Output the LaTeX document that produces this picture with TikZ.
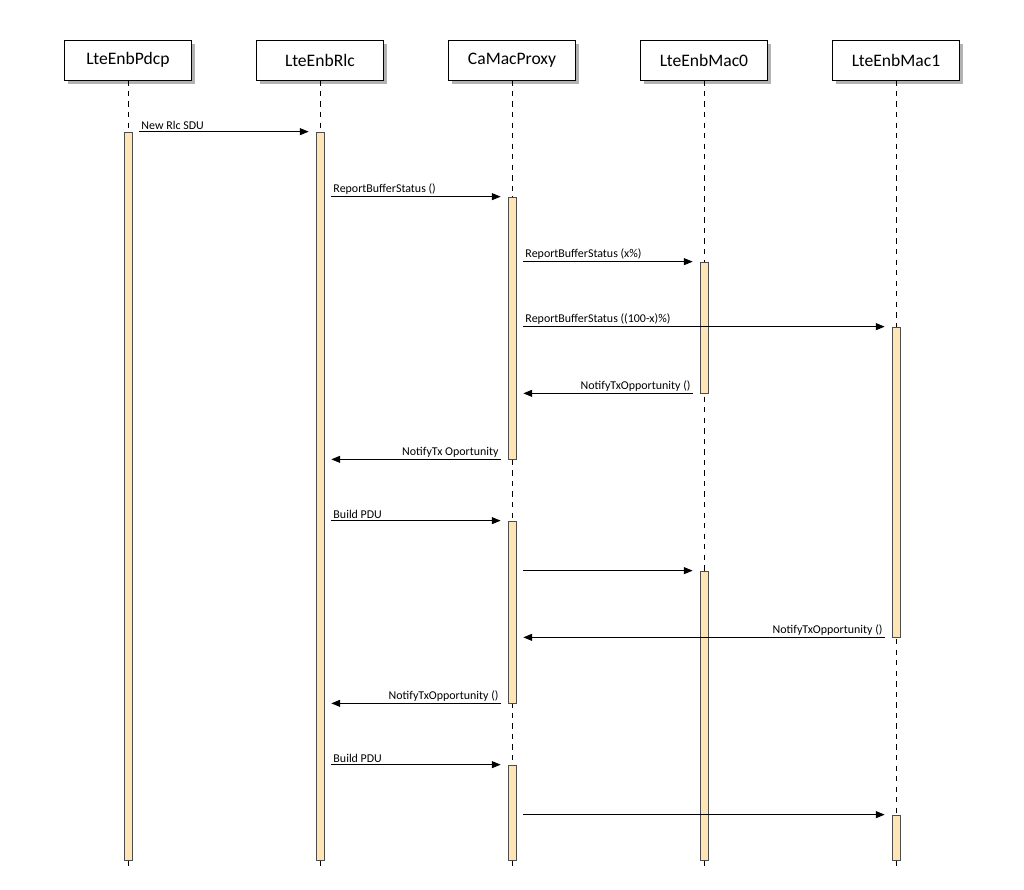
\documentclass[tikz,border=0pt]{standalone}
\usepackage{fontspec}
\setmainfont{Carlito}
\usetikzlibrary{arrows.meta,shadows}

\definecolor{barfill}{HTML}{FFE4B5}

\tikzset{
    actor/.style = {draw = black, fill = white, minimum width = 127*0.02cm,
                    minimum height = 40*0.02cm, inner sep = 0pt,
                    drop shadow = {shadow xshift = 2pt, shadow yshift = -2pt, fill = black!60}},
    bar/.style = {draw = black!70, fill = barfill, minimum width = 8*0.02cm, inner sep = 0pt},
    life/.style = {dashed, black},
    msg/.style = {-{Triangle[length=5pt,width=4pt]}, black},
    lbl/.style = {font = \fontsize{6.8}{8}\selectfont, inner sep = 1pt, above}
}

\begin{document}
\begin{tikzpicture}[x=0.02cm, y=-0.02cm]

    \useasboundingbox (0,0) rectangle (1024,889);

    % actors
    \node[actor] (pdcp) at (128,60) {LteEnbPdcp};
    \node[actor] (rlc)  at (320,60) {LteEnbRlc};
    \node[actor] (prox) at (512,60) {CaMacProxy};
    \node[actor] (mac0) at (704,60) {LteEnbMac0};
    \node[actor] (mac1) at (896,60) {LteEnbMac1};

    % lifelines
    \foreach \a in {pdcp, rlc, prox, mac0, mac1}
        \draw[life] (\a.south) -- ++(0,788);

    % activation bars
    \node[bar, minimum height = 728*0.02cm] (bp)  at (128,496) {};
    \node[bar, minimum height = 728*0.02cm] (br)  at (320,496) {};
    \node[bar, minimum height = 262*0.02cm] (bx1) at (512,328) {};
    \node[bar, minimum height = 182*0.02cm] (bx2) at (512,612) {};
    \node[bar, minimum height = 95*0.02cm]  (bx3) at (512,812.5) {};
    \node[bar, minimum height = 131*0.02cm] (bm1) at (704,327.5) {};
    \node[bar, minimum height = 289*0.02cm] (bm2) at (704,715.5) {};
    \node[bar, minimum height = 310*0.02cm] (bn1) at (896,482) {};
    \node[bar, minimum height = 45*0.02cm]  (bn2) at (896,837.5) {};

    % messages
    \draw[msg] ([xshift=4pt]bp.north east) -- ([xshift=-4pt]br.north west)
        node[lbl, pos=0, anchor=south west] {New Rlc SDU};
    \draw[msg] ([xshift=4pt]br.east |- bx1.north) -- ([xshift=-4pt]bx1.north west)
        node[lbl, pos=0, anchor=south west] {ReportBufferStatus ()};
    \draw[msg] ([xshift=4pt]bx1.east |- bm1.north) -- ([xshift=-4pt]bm1.north west)
        node[lbl, pos=0, anchor=south west] {ReportBufferStatus (x\%)};
    \draw[msg] ([xshift=4pt]bx1.east |- bn1.north) -- ([xshift=-4pt]bn1.north west)
        node[lbl, pos=0, anchor=south west] {ReportBufferStatus ((100-x)\%)};
    \draw[msg] ([xshift=-4pt]bm1.south west) -- ([xshift=4pt]bx1.east |- bm1.south)
        node[lbl, pos=0, anchor=south east] {NotifyTxOpportunity ()};
    \draw[msg] ([xshift=-4pt]bx1.south west) -- ([xshift=4pt]br.east |- bx1.south)
        node[lbl, pos=0, anchor=south east] {NotifyTx Oportunity};
    \draw[msg] ([xshift=4pt]br.east |- bx2.north) -- ([xshift=-4pt]bx2.north west)
        node[lbl, pos=0, anchor=south west] {Build PDU};
    \draw[msg] ([xshift=4pt]bx2.east |- bm2.north) -- ([xshift=-4pt]bm2.north west);
    \draw[msg] ([xshift=-4pt]bn1.south west) -- ([xshift=4pt]bx2.east |- bn1.south)
        node[lbl, pos=0, anchor=south east] {NotifyTxOpportunity ()};
    \draw[msg] ([xshift=-4pt]bx2.south west) -- ([xshift=4pt]br.east |- bx2.south)
        node[lbl, pos=0, anchor=south east] {NotifyTxOpportunity ()};
    \draw[msg] ([xshift=4pt]br.east |- bx3.north) -- ([xshift=-4pt]bx3.north west)
        node[lbl, pos=0, anchor=south west] {Build PDU};
    \draw[msg] ([xshift=4pt]bx3.east |- bn2.north) -- ([xshift=-4pt]bn2.north west);

\end{tikzpicture}
\end{document}
